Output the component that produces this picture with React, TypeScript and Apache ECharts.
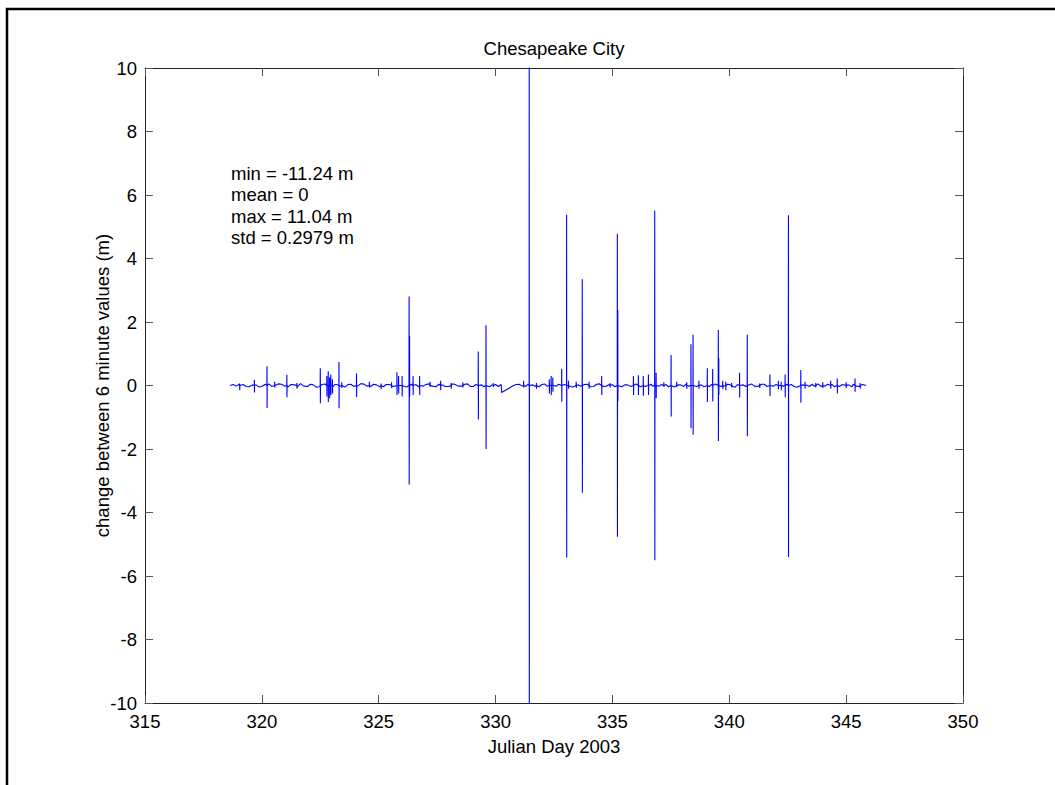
import React, { useEffect, useRef } from "react";
import * as echarts from "echarts";

// ---- data (Julian day, change in m) ----
const xTicks = { min: 315, max: 350, interval: 5 };
const yTicks = { min: -10, max: 10, interval: 2 };

const titleText = "Chesapeake City";
const xLabelText = "Julian Day 2003";
const yLabelText = "change between 6 minute values (m)";
const statLines = ["min = -11.24 m", "mean = 0", "max = 11.04 m", "std = 0.2979 m"];

// slowly varying background of the 6-minute differences
const baseDay = [
  318.64, 318.78, 318.9, 319.03, 319.2, 319.33, 319.45, 319.6, 319.75, 319.88, 320.0, 320.15,
  320.3, 320.42, 320.55, 320.7, 320.85, 320.97, 321.1, 321.25, 321.4, 321.52, 321.65, 321.8,
  321.95, 322.08, 322.2, 322.33, 322.45, 322.58, 322.7, 323.05, 323.12, 323.2, 323.38, 323.55,
  323.68, 323.8, 323.95, 324.1, 324.22, 324.35, 324.5, 324.65, 324.78, 324.9, 325.05, 325.2,
  325.32, 325.45, 325.58, 325.7, 326.0, 326.1, 326.2, 326.4, 326.6, 326.7, 326.9, 327.02,
  327.15, 327.3, 327.45, 327.58, 327.7, 327.85, 328.0, 328.12, 328.25, 328.4, 328.55, 328.68,
  328.8, 328.92, 329.05, 329.15, 329.4, 329.5, 329.75, 329.85, 330.0, 330.12, 330.24, 330.26,
  330.75, 330.88, 331.0, 331.15, 331.3, 331.38, 331.6, 331.7, 331.85, 331.98, 332.1, 332.2,
  332.6, 332.7, 332.95, 333.2, 333.3, 333.55, 333.62, 333.8, 333.9, 334.05, 334.2, 334.32,
  334.45, 334.6, 334.75, 334.85, 335.0, 335.1, 335.4, 335.52, 335.65, 335.78, 336.0, 336.2,
  336.4, 336.65, 336.72, 337.0, 337.1, 337.3, 337.4, 337.65, 337.85, 337.9, 338.05, 338.15,
  338.28, 338.6, 338.8, 338.92, 339.15, 339.22, 339.4, 339.65, 339.75, 339.92, 340.0, 340.18,
  340.25, 340.35, 340.6, 340.7, 340.95, 341.08, 341.2, 341.38, 341.5, 341.62, 341.9, 342.0,
  342.3, 342.46, 342.65, 342.8, 342.92, 343.15, 343.3, 343.42, 343.55, 343.62, 343.8, 343.92,
  344.1, 344.2, 344.4, 344.5, 344.7, 344.85, 345.1, 345.25, 345.3, 345.45, 345.55, 345.7,
  345.85,
];
const baseVal = [
  0.0, 0.03, -0.02, 0.04, 0.03, -0.03, -0.04, 0.02, 0.02, -0.05, -0.03, 0.04,
  0.05, -0.03, -0.02, 0.05, 0.04, -0.02, -0.05, 0.03, 0.02, -0.04, 0.06, -0.02,
  -0.03, 0.04, 0.02, -0.05, -0.04, 0.03, 0.05, -0.04, 0.03, 0.03, -0.02, -0.05,
  0.03, 0.04, -0.03, -0.02, 0.05, 0.05, -0.02, -0.03, 0.04, 0.02, -0.04, -0.04,
  0.03, 0.03, -0.03, -0.02, 0.04, -0.03, -0.05, 0.04, 0.03, -0.04, -0.02, 0.03,
  0.05, -0.02, -0.04, 0.04, 0.02, -0.03, -0.03, 0.05, 0.04, -0.02, -0.02, 0.04,
  0.05, -0.03, -0.03, 0.03, 0.02, -0.04, -0.04, 0.02, 0.03, -0.03, 0.03, -0.22,
  -0.01, 0.03, 0.04, -0.02, -0.03, 0.04, 0.02, -0.03, -0.04, 0.03, 0.05, -0.02,
  -0.02, 0.04, 0.03, -0.03, -0.05, 0.02, -0.02, 0.03, 0.04, -0.04, -0.03, 0.04,
  0.05, -0.03, -0.02, 0.03, 0.03, -0.04, -0.04, 0.02, 0.02, -0.03, 0.05, -0.04,
  -0.03, 0.04, -0.02, -0.02, 0.03, 0.03, -0.04, -0.05, 0.02, 0.02, -0.03, 0.04,
  -0.02, -0.03, 0.02, -0.04, -0.04, 0.03, 0.05, -0.03, -0.02, 0.04, 0.03, -0.04,
  -0.05, 0.03, 0.02, -0.03, 0.05, -0.02, -0.03, 0.04, 0.04, -0.03, -0.02, 0.03,
  -0.02, 0.04, 0.03, -0.04, -0.05, 0.02, 0.02, -0.03, 0.04, -0.02, 0.05, -0.03,
  -0.02, 0.04, 0.03, -0.04, -0.03, 0.03, 0.02, -0.04, 0.04, -0.02, -0.03, 0.03,
  0.0,
];

// isolated bad readings: jump up, then back down on the next sample
const spikeDay = [
  319.05, 319.68, 320.22, 320.55, 321.07, 321.5, 322.5, 322.78, 322.84, 322.9, 322.95, 323.02,
  323.3, 323.42, 324.05, 324.6, 325.1, 325.55, 325.78, 325.85, 326.0, 326.3, 326.32, 326.47,
  326.75, 327.2, 327.65, 328.1, 328.6, 329.26, 329.59, 329.9, 331.2, 331.44, 331.75, 332.3,
  332.38, 332.45, 332.83, 333.04, 333.12, 333.45, 333.71, 334.0, 334.54, 334.9, 335.21, 335.23,
  335.9, 336.11, 336.32, 336.54, 336.81, 336.87, 337.2, 337.51, 337.75, 338.18, 338.36, 338.45,
  338.7, 339.06, 339.29, 339.53, 339.55, 339.72, 339.85, 340.1, 340.44, 340.77, 341.3, 341.74,
  342.1, 342.22, 342.39, 342.53, 343.06, 343.24, 343.7, 344.0, 344.34, 344.62, 345.0, 345.38,
  345.6,
];
const spikeUp = [
  0.06, 0.18, 0.61, 0.12, 0.34, 0.08, 0.54, 0.3, 0.45, 0.25, 0.35, 0.2,
  0.74, 0.1, 0.38, 0.12, 0.06, 0.1, 0.42, 0.3, 0.3, 2.8, 1.57, 0.3,
  0.3, 0.12, 0.15, 0.08, 0.1, 1.07, 1.9, 0.08, 0.15, 11.04, 0.08, 0.2,
  0.3, 0.25, 0.53, 5.38, 0.15, 0.12, 3.35, 0.12, 0.3, 0.08, 4.78, 2.38,
  0.3, 0.32, 0.3, 0.35, 5.5, 0.4, 0.1, 0.96, 0.12, 0.1, 1.3, 1.6,
  0.15, 0.54, 0.52, 1.75, 0.86, 0.15, 0.12, 0.08, 0.4, 1.6, 0.06, 0.35,
  0.15, 0.12, 0.35, 5.36, 0.49, 0.12, 0.08, 0.1, 0.15, 0.22, 0.1, 0.22,
  0.08,
];
const spikeDown = [
  -0.15, -0.22, -0.71, -0.06, -0.37, -0.1, -0.56, -0.35, -0.52, -0.4, -0.3, -0.25,
  -0.72, -0.08, -0.36, -0.06, -0.12, -0.08, -0.3, -0.25, -0.35, -3.12, -0.35, -0.3,
  -0.3, -0.05, -0.15, -0.1, -0.06, -1.07, -2.0, -0.05, -0.06, -11.24, -0.1, -0.25,
  -0.3, -0.2, -0.51, -5.42, -0.1, -0.08, -3.38, -0.1, -0.3, -0.06, -4.76, -0.5,
  -0.3, -0.3, -0.32, -0.3, -5.5, -0.4, -0.05, -0.98, -0.05, -0.1, -1.35, -1.55,
  -0.1, -0.52, -0.5, -1.75, -0.3, -0.12, -0.15, -0.06, -0.38, -1.6, -0.08, -0.33,
  -0.12, -0.15, -0.37, -5.4, -0.54, -0.1, -0.06, -0.08, -0.1, -0.25, -0.08, -0.2,
  -0.1,
];
const sampleStep = 1 / 240; // 6 minutes in days

function buildSeries(): [number, number][] {
  const pts: [number, number][] = baseDay.map((d, i) => [d, baseVal[i]]);
  spikeDay.forEach((d, i) => {
    pts.push([d - sampleStep, 0]);
    pts.push([d, spikeUp[i]]);
    pts.push([d + sampleStep, spikeDown[i]]);
    pts.push([d + 2 * sampleStep, 0]);
  });
  pts.sort((a, b) => a[0] - b[0]);
  return pts;
}

const FONT = "'Liberation Sans', Arial, Helvetica, sans-serif";
const FS = 18.5;

export default function App() {
  const ref = useRef<HTMLDivElement>(null);
  useEffect(() => {
    if (!ref.current) return;
    const chart = echarts.init(ref.current, undefined, { renderer: "svg" });
    const axisLine = { show: true, onZero: false, lineStyle: { color: "#222", width: 1 } };
    const axisTick = { show: true, inside: true, length: 8, lineStyle: { color: "#555", width: 1 } };
    const label = { color: "#000", fontSize: FS, fontFamily: FONT, margin: 8 };
    chart.setOption({
      animation: false,
      backgroundColor: "#fff",
      grid: { left: 145, top: 68, width: 818, height: 635, containLabel: false },
      xAxis: [
        {
          type: "value", position: "bottom", ...xTicks,
          axisLine, axisTick, splitLine: { show: false },
          axisLabel: { ...label, margin: 9 },
        },
        {
          type: "value", position: "top", ...xTicks,
          axisLine, axisTick, splitLine: { show: false }, axisLabel: { show: false },
        },
      ],
      yAxis: [
        {
          type: "value", position: "left", ...yTicks,
          axisLine, axisTick, splitLine: { show: false }, axisLabel: label,
        },
        {
          type: "value", position: "right", ...yTicks,
          axisLine, axisTick, splitLine: { show: false }, axisLabel: { show: false },
        },
      ],
      series: [
        {
          type: "line",
          xAxisIndex: 0,
          yAxisIndex: 0,
          data: buildSeries(),
          showSymbol: false,
          symbol: "none",
          clip: true,
          lineStyle: { color: "#0000ff", width: 1.1 },
          emphasis: { disabled: true },
        },
      ],
      graphic: [
        {
          type: "rect",
          shape: { x: 7, y: 9, width: 1200, height: 1000 },
          style: { fill: "none", stroke: "#000", lineWidth: 2.5 },
          silent: true,
        },
        {
          type: "text", x: 554, y: 48.5,
          style: { text: titleText, fill: "#000", fontSize: FS, fontFamily: FONT, align: "center", verticalAlign: "middle" },
        },
        {
          type: "text", x: 554, y: 746,
          style: { text: xLabelText, fill: "#000", fontSize: FS, fontFamily: FONT, align: "center", verticalAlign: "middle" },
        },
        {
          type: "text", x: 102, y: 385.5, rotation: Math.PI / 2,
          style: { text: yLabelText, fill: "#000", fontSize: FS, fontFamily: FONT, align: "center", verticalAlign: "middle" },
        },
        ...statLines.map((t, i) => ({
          type: "text", x: 231, y: 173.5 + i * 21.3,
          style: { text: t, fill: "#000", fontSize: FS, fontFamily: FONT, align: "left", verticalAlign: "middle" },
        })),
      ],
    });
    return () => chart.dispose();
  }, []);
  return (
    <div
      ref={ref}
      style={{ position: "fixed", left: 0, top: 0, width: 1055, height: 785, background: "#fff" }}
    />
  );
}
